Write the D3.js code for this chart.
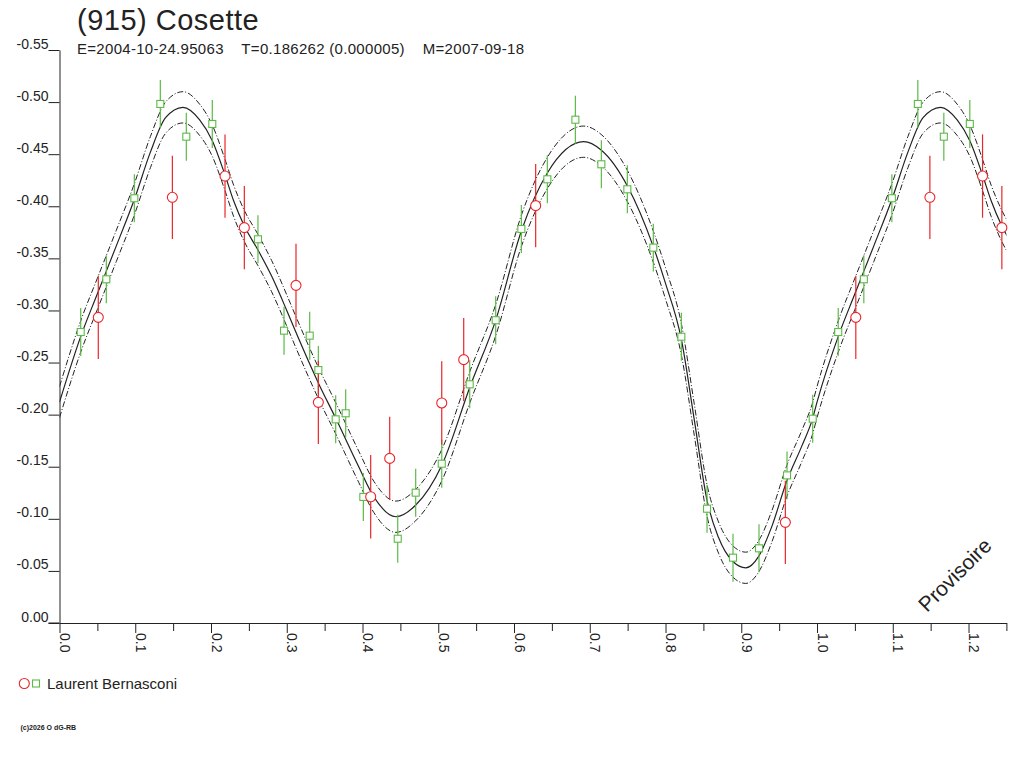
<!DOCTYPE html>
<html>
<head>
<meta charset="utf-8">
<script src="https://cdn.jsdelivr.net/npm/d3@7"></script>
<style>
  body { margin: 0; background: #fff; }
  svg { display: block; font-family: "Liberation Sans", Arial, sans-serif; }
</style>
</head>
<body>
<div id="chart"></div>
<script>
// observations, phase / reduced magnitude
var redPhase = [0.0512, 0.149, 0.2185, 0.244, 0.3122, 0.3417, 0.4108, 0.4359, 0.5046, 0.5336, 0.6286, 0.9582]
var redMag = [-0.2934, -0.4086, -0.429, -0.3795, -0.3241, -0.2118, -0.1212, -0.158, -0.2112, -0.2528, -0.4006, -0.0966]
var redErr = 0.040

var greenPhase = [0.028, 0.0618, 0.0988, 0.1331, 0.1674, 0.2017, 0.262, 0.2964, 0.3303, 0.3417,
  0.3646, 0.3778, 0.4011, 0.4465, 0.4702, 0.5046, 0.5415, 0.5758, 0.6097, 0.644,
  0.681, 0.7153, 0.7496, 0.7839, 0.8209, 0.8548, 0.8891, 0.9234, 0.9604, 0.9943]
var greenMag = [-0.2793, -0.3299, -0.4077, -0.4982, -0.4668, -0.479, -0.3683, -0.2806, -0.2758, -0.2428,
  -0.1955, -0.2013, -0.121, -0.0809, -0.1251, -0.1529, -0.2291, -0.2906, -0.3782, -0.4259,
  -0.4831, -0.4403, -0.4163, -0.3603, -0.2748, -0.1097, -0.0627, -0.0717, -0.1417, -0.1961]
var greenErr = 0.023

// fitted curve
var curvePhase = [0.000, 0.029, 0.050, 0.075, 0.099, 0.120, 0.140, 0.163, 0.185, 0.2017,
  0.2185, 0.230, 0.244, 0.262, 0.280, 0.300, 0.311, 0.342, 0.365, 0.395,
  0.415, 0.444, 0.470, 0.505, 0.542, 0.576, 0.610, 0.644, 0.692, 0.715,
  0.750, 0.784, 0.800, 0.821, 0.838, 0.855, 0.870, 0.889, 0.906, 0.923,
  0.940, 0.960, 0.980, 0.994]
var curveMag = [-0.212, -0.277, -0.316, -0.362, -0.407, -0.452, -0.485, -0.495, -0.483, -0.463,
  -0.430, -0.405, -0.381, -0.358, -0.333, -0.300, -0.281, -0.230, -0.196, -0.150,
  -0.121, -0.102, -0.113, -0.152, -0.227, -0.291, -0.377, -0.432, -0.462, -0.454,
  -0.419, -0.361, -0.326, -0.272, -0.195, -0.117, -0.082, -0.059, -0.053, -0.064,
  -0.092, -0.136, -0.170, -0.196]
var band = 0.015

var xTicksMajor = [0, 0.1, 0.2, 0.3, 0.4, 0.5, 0.6, 0.7, 0.8, 0.9, 1.0, 1.1, 1.2]
var xTickLabels = ['0.0', '0.1', '0.2', '0.3', '0.4', '0.5', '0.6', '0.7', '0.8', '0.9', '1.0', '1.1', '1.2']
var xTicksMinor = [0.05, 0.15, 0.25, 0.35, 0.45, 0.55, 0.65, 0.75, 0.85, 0.95, 1.05, 1.15, 1.25]
var yTicks = [0, -0.05, -0.1, -0.15, -0.2, -0.25, -0.3, -0.35, -0.4, -0.45, -0.5, -0.55]
var yTickLabels = ['0.00', '-0.05', '-0.10', '-0.15', '-0.20', '-0.25', '-0.30', '-0.35', '-0.40', '-0.45', '-0.50', '-0.55']

var title = '(915) Cosette'
var subtitle = 'E=2004-10-24.95063    T=0.186262 (0.000005)    M=2007-09-18'
var observer = 'Laurent Bernasconi'

var w = 1024
var h = 768
var maxPhase = 1.25

var svg = d3.select('#chart')
    .append('svg')
    .attr('width', w)
    .attr('height', h)

svg.append('rect').attr('width', w).attr('height', h).attr('fill', '#fff')

var x = d3.scaleLinear().domain([0, maxPhase]).range([59.5, 1006.4])
var y = d3.scaleLinear().domain([0, -0.55]).range([623, 50])

// fold: show phases 0..1.25
function fold(phases, mags) {
  var pts = phases.map(function(p, i) {return {p: p, m: mags[i]}})
  phases.forEach(function(p, i) {
    if (p + 1 <= maxPhase) pts.push({p: p + 1, m: mags[i]})
  })
  return pts
}

var red = fold(redPhase, redMag)
var green = fold(greenPhase, greenMag)

var curvePts = curvePhase.map(function(p, i) {return {p: p, m: curveMag[i]}})
curvePhase.forEach(function(p, i) {
  if (p < 0.32) curvePts.push({p: p + 1, m: curveMag[i]})
})

svg.append('clipPath')
    .attr('id', 'plot')
  .append('rect')
    .attr('x', x(0))
    .attr('y', 30)
    .attr('width', x(maxPhase) - x(0))
    .attr('height', 600)

// axes
var yAxis = svg.append('g')
    .attr('transform', 'translate(' + x(0) + ',0)')
    .call(d3.axisLeft(y).tickValues(yTicks).tickSize(11).tickSizeOuter(0).tickPadding(0)
      .tickFormat(function(d, i) {return yTickLabels[i]}))
yAxis.selectAll('text').attr('dy', '-2px').attr('x', -11)

svg.append('g')
    .attr('transform', 'translate(0,' + y(0) + ')')
    .call(d3.axisBottom(x).tickValues(xTicksMinor).tickSize(8).tickSizeOuter(0).tickFormat(''))

var xAxis = svg.append('g')
    .attr('transform', 'translate(0,' + y(0) + ')')
    .call(d3.axisBottom(x).tickValues(xTicksMajor).tickSize(10).tickSizeOuter(0)
      .tickFormat(function(d, i) {return xTickLabels[i]}))
xAxis.selectAll('text')
    .attr('transform', 'rotate(90)')
    .attr('x', 10)
    .attr('y', 0)
    .attr('dy', 0)
    .style('text-anchor', 'start')

svg.selectAll('.domain, .tick line').attr('stroke', '#222')
svg.selectAll('.tick text')
    .attr('fill', '#222')
    .style('font-size', '14px')
    .style('font-family', '"Liberation Sans", Arial, sans-serif')

// x axis line reaches the end of the 0.00 tick
svg.append('line')
    .attr('x1', x(0) - 11).attr('x2', x(0))
    .attr('y1', y(0)).attr('y2', y(0))
    .attr('stroke', '#222')

// fit and its band
var line = d3.line()
    .curve(d3.curveMonotoneX)
    .x(function(d) {return x(d.p)})
    .y(function(d) {return y(d.m)})

var fit = svg.append('g').attr('clip-path', 'url(#plot)')

fit.append('path')
    .attr('d', line(curvePts.map(function(d) {return {p: d.p, m: d.m - band}})))
    .attr('fill', 'none')
    .attr('stroke', '#222')
    .attr('stroke-width', 1)
    .attr('stroke-dasharray', '6,2,1,2')

fit.append('path')
    .attr('d', line(curvePts.map(function(d) {return {p: d.p, m: d.m + band}})))
    .attr('fill', 'none')
    .attr('stroke', '#222')
    .attr('stroke-width', 1)
    .attr('stroke-dasharray', '6,2,1,2')

fit.append('path')
    .attr('d', line(curvePts))
    .attr('fill', 'none')
    .attr('stroke', '#222')
    .attr('stroke-width', 1.2)

// error bars
var redCol = '#e8262b'
var greenCol = '#5cba47'

svg.append('g').selectAll('line')
    .data(green)
  .enter().append('line')
    .attr('x1', function(d) {return x(d.p)})
    .attr('x2', function(d) {return x(d.p)})
    .attr('y1', function(d) {return y(d.m - greenErr)})
    .attr('y2', function(d) {return y(d.m + greenErr)})
    .attr('stroke', greenCol)
    .attr('stroke-width', 1.2)

svg.append('g').selectAll('line')
    .data(red)
  .enter().append('line')
    .attr('x1', function(d) {return x(d.p)})
    .attr('x2', function(d) {return x(d.p)})
    .attr('y1', function(d) {return y(d.m - redErr)})
    .attr('y2', function(d) {return y(d.m + redErr)})
    .attr('stroke', redCol)
    .attr('stroke-width', 1.2)

svg.append('g').selectAll('rect')
    .data(green)
  .enter().append('rect')
    .attr('x', function(d) {return x(d.p) - 3.5})
    .attr('y', function(d) {return y(d.m) - 3.5})
    .attr('width', 7)
    .attr('height', 7)
    .attr('fill', '#fff')
    .attr('stroke', greenCol)
    .attr('stroke-width', 1.1)

svg.append('g').selectAll('circle')
    .data(red)
  .enter().append('circle')
    .attr('cx', function(d) {return x(d.p)})
    .attr('cy', function(d) {return y(d.m)})
    .attr('r', 5)
    .attr('fill', '#fff')
    .attr('stroke', redCol)
    .attr('stroke-width', 1.1)

// titles
svg.append('text')
    .attr('x', 77).attr('y', 29.5)
    .attr('fill', '#222')
    .style('font-size', '29px')
    .style('letter-spacing', '0.5px')
    .text(title)

svg.append('text')
    .attr('x', 77).attr('y', 53.5)
    .attr('fill', '#222')
    .style('font-size', '15px')
    .style('letter-spacing', '0.3px')
    .style('white-space', 'pre')
    .attr('xml:space', 'preserve')
    .text(subtitle)

svg.append('text')
    .attr('transform', 'translate(927,613) rotate(-45)')
    .attr('fill', '#222')
    .style('font-size', '21px')
    .text('Provisoire')

// legend
svg.append('circle')
    .attr('cx', 24.3).attr('cy', 683.5).attr('r', 5)
    .attr('fill', '#fff').attr('stroke', redCol).attr('stroke-width', 1.1)
svg.append('rect')
    .attr('x', 32.5).attr('y', 680).attr('width', 7).attr('height', 7)
    .attr('fill', '#fff').attr('stroke', greenCol).attr('stroke-width', 1.1)
svg.append('text')
    .attr('x', 47).attr('y', 688.5)
    .attr('fill', '#222')
    .style('font-size', '15px')
    .text(observer)

svg.append('text')
    .attr('x', 20.5).attr('y', 730)
    .attr('fill', '#222')
    .style('font-size', '7px')
    .style('font-weight', 'bold')
    .text('(c)2026 O dG-RB')
</script>
</body>
</html>
